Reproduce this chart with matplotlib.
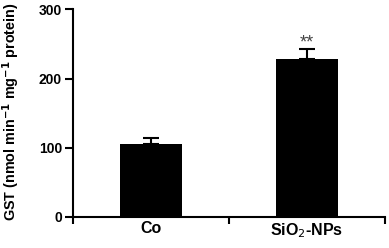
import matplotlib
matplotlib.use("Agg")
import matplotlib.pyplot as plt

categories = ["Co", "SiO$_2$-NPs"]
values = [105.5, 228]
errors = [8.5, 15]
annotations = ["", "**"]

plt.rcParams['font.family'] = ['Liberation Sans', 'DejaVu Sans']

fig = plt.figure(figsize=(3.89, 2.48), dpi=100)
ax = fig.add_axes([73/389, 1-217/248, (385-73)/389, (217-9.5)/248])

x = list(range(len(categories)))
ax.bar(x, values, width=0.4, color='black', zorder=2)
ax.errorbar(x, values, yerr=[[0]*len(errors), errors], fmt='none', ecolor='black',
            elinewidth=1.5, capsize=5.5, capthick=1.5, zorder=1)
for xi, v, e, a in zip(x, values, errors, annotations):
    if a:
        ax.text(xi, v + e - 3, a, ha='center', va='bottom', fontsize=13, color='#444444')

ax.set_xlim(-0.5, 1.5)
ax.set_ylim(0, 300)
ax.set_yticks([0, 100, 200, 300])
ax.set_xticks([-0.5, 0.5, 1.5])
ax.set_xticklabels([])
ax.set_xticks(x, minor=True)
ax.set_xticklabels(categories, minor=True, fontweight='bold', fontsize=11.5)
ax.tick_params(axis='x', which='minor', length=0, pad=3)
ax.tick_params(axis='x', which='major', length=5, width=1.5, direction='out')
ax.tick_params(axis='y', length=6, width=1.5, direction='out', labelsize=10, pad=2)
for lab in ax.get_yticklabels():
    lab.set_fontweight('bold')

ax.spines['top'].set_visible(False)
ax.spines['right'].set_visible(False)
ax.spines['left'].set_linewidth(1.5)
ax.spines['bottom'].set_linewidth(1.5)

ax.set_ylabel("GST (nmol min$^{\\mathbf{-1}}$ mg$^{\\mathbf{-1}}$ protein)", fontweight='bold', fontsize=10.4)
ax.yaxis.set_label_coords(-0.163, 0.505)

fig.savefig("out.png", dpi=100)
